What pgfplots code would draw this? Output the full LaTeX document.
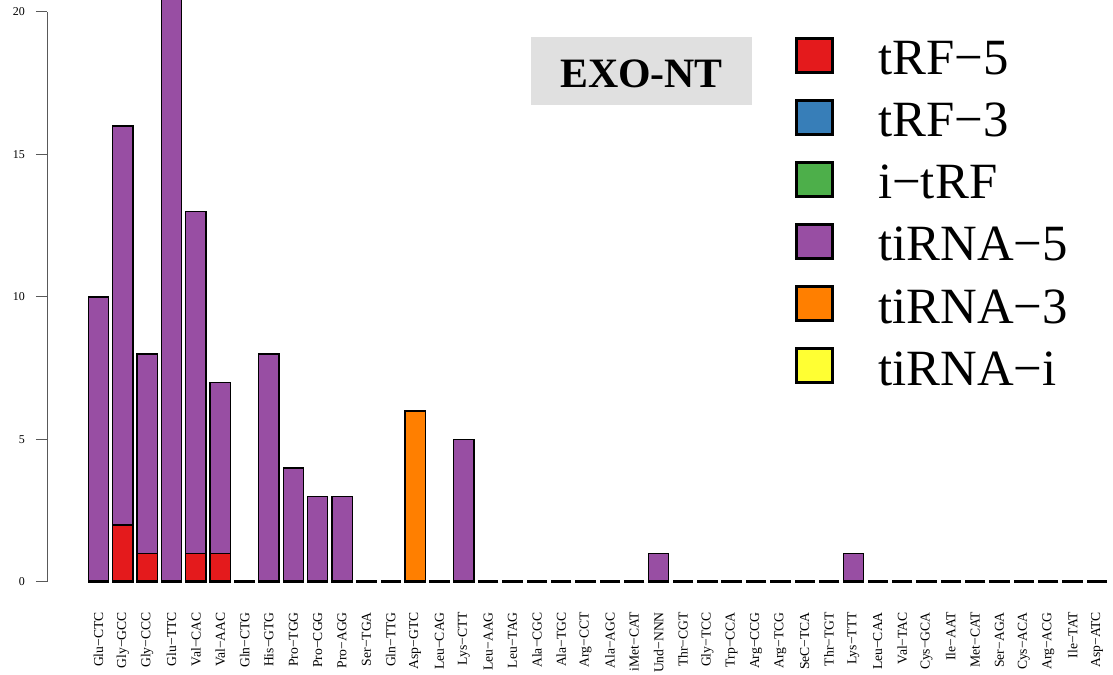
\documentclass[border=0pt]{standalone}
\usepackage{fontspec}
\setmainfont{Liberation Serif}
\usepackage{pgfplots}
\usepackage{pgfplotstable}
\pgfplotsset{compat=1.18}
\definecolor{cA}{HTML}{E41A1C}
\definecolor{cB}{HTML}{377EB8}
\definecolor{cC}{HTML}{4DAF4A}
\definecolor{cD}{HTML}{984EA3}
\definecolor{cE}{HTML}{FF7F00}
\definecolor{cF}{HTML}{FFFF33}
\definecolor{exo}{HTML}{E0E0E0}
\pgfplotstableread{
i a b c d e f z
0 0 0 0 10 0 0 0
1 2 0 0 14 0 0 0
2 1 0 0 7 0 0 0
3 0 0 0 25 0 0 0
4 1 0 0 12 0 0 0
5 1 0 0 6 0 0 0
6 0 0 0 0 0 0 0
7 0 0 0 8 0 0 0
8 0 0 0 4 0 0 0
9 0 0 0 3 0 0 0
10 0 0 0 3 0 0 0
11 0 0 0 0 0 0 0
12 0 0 0 0 0 0 0
13 0 0 0 0 6 0 0
14 0 0 0 0 0 0 0
15 0 0 0 5 0 0 0
16 0 0 0 0 0 0 0
17 0 0 0 0 0 0 0
18 0 0 0 0 0 0 0
19 0 0 0 0 0 0 0
20 0 0 0 0 0 0 0
21 0 0 0 0 0 0 0
22 0 0 0 0 0 0 0
23 0 0 0 1 0 0 0
24 0 0 0 0 0 0 0
25 0 0 0 0 0 0 0
26 0 0 0 0 0 0 0
27 0 0 0 0 0 0 0
28 0 0 0 0 0 0 0
29 0 0 0 0 0 0 0
30 0 0 0 0 0 0 0
31 0 0 0 1 0 0 0
32 0 0 0 0 0 0 0
33 0 0 0 0 0 0 0
34 0 0 0 0 0 0 0
35 0 0 0 0 0 0 0
36 0 0 0 0 0 0 0
37 0 0 0 0 0 0 0
38 0 0 0 0 0 0 0
39 0 0 0 0 0 0 0
40 0 0 0 0 0 0 0
41 0 0 0 0 0 0 0
}\data
\newcommand\legrow[3]{%
  \filldraw[fill=#2, draw=black, line width=3bp] (796bp,{(658-#1)*1bp}) rectangle (832bp,{(692-#1)*1bp});
  \node[anchor=base west, inner sep=0pt, font=\fontsize{51}{51}\selectfont] at (878bp,{(656-#1)*1bp}) {#3};
}
\pgfplotsset{base/.style={
  at={(47bp,93bp)}, anchor=south west, scale only axis,
  width=1066bp, height=582bp,
  xmin=-2.115, xmax=41.66, ymin=0, ymax=20.42, clip=false,
}}
\begin{document}
\begin{tikzpicture}
\path[use as bounding box] (0,0) rectangle (1113bp,675bp);
\begin{axis}[base,
  ybar stacked, bar width=0.833,
  axis lines*=left, axis line style={draw=none},
  tick align=outside, major tick length=11bp,
  xtick={0,...,41},
  xtick style={draw=none},
  ytick={0,5,10,15,20},
  ytick style={black!65, line width=1bp},
  yticklabel style={font=\fontsize{12}{12}\selectfont, inner sep=0pt, xshift=-11bp},
  xticklabels={Glu−CTC,Gly−GCC,Gly−CCC,Glu−TTC,Val−CAC,Val−AAC,Gln−CTG,His−GTG,Pro−TGG,Pro−CGG,Pro−AGG,Ser−TGA,Gln−TTG,Asp−GTC,Leu−CAG,Lys−CTT,Leu−AAG,Leu−TAG,Ala−CGC,Ala−TGC,Arg−CCT,Ala−AGC,iMet−CAT,Und−NNN,Thr−CGT,Gly−TCC,Trp−CCA,Arg−CCG,Arg−TCG,SeC−TCA,Thr−TGT,Lys−TTT,Leu−CAA,Val−TAC,Cys−GCA,Ile−AAT,Met−CAT,Ser−AGA,Cys−ACA,Arg−ACG,Ile−TAT,Asp−ATC},
  xticklabel style={rotate=90, anchor=east, inner sep=0pt, font=\fontsize{13.7}{13.7}\selectfont, xshift=-19bp},
  /pgf/number format/assume math mode=true,
  every axis plot/.append style={draw=black, line width=1.3bp},
]
\addplot[fill=cA] table[x=i,y=a]{\data};
\addplot[fill=cB] table[x=i,y=b]{\data};
\addplot[fill=cC] table[x=i,y=c]{\data};
\addplot[fill=cD] table[x=i,y=d]{\data};
\addplot[fill=cE] table[x=i,y=e]{\data};
\addplot[fill=cF] table[x=i,y=f]{\data};
\draw[black!65, line width=1bp] (axis cs:-2.115,0) -- (axis cs:-2.115,20);
\end{axis}
\begin{axis}[base, hide axis]
\addplot[only marks, mark=-, mark size=10.2bp, mark options={line width=3bp, black}] table[x=i,y=z]{\data};
\end{axis}
\fill[exo] (531bp,570bp) rectangle (752bp,638bp);
\node[anchor=base, inner sep=0pt, font=\bfseries\fontsize{42}{42}\selectfont] at (641.5bp,587bp) {EXO-NT};
\legrow{56}{cA}{tRF−5}
\legrow{118}{cB}{tRF−3}
\legrow{180}{cC}{i−tRF}
\legrow{242}{cD}{tiRNA−5}
\legrow{304}{cE}{tiRNA−3}
\legrow{366}{cF}{tiRNA−i}
\end{tikzpicture}
\end{document}
